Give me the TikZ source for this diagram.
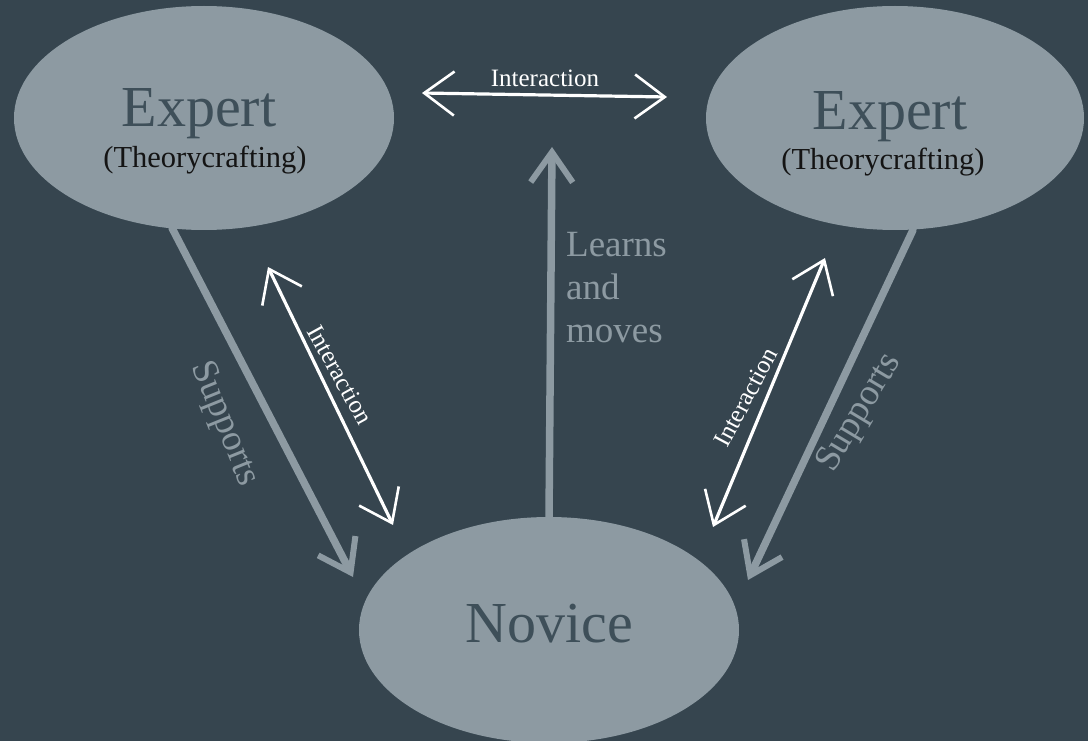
\documentclass[tikz,border=0pt]{standalone}
\usepackage{fontspec}
\setmainfont{Liberation Serif}
\usetikzlibrary{shapes.geometric,arrows.meta}

\definecolor{slate}{HTML}{36454F}
\definecolor{bubble}{HTML}{8D9AA2}
\definecolor{inktext}{HTML}{3E4F59}
\definecolor{chalk}{HTML}{FFFFFF}

\tikzset{
  bubblenode/.style={ellipse, fill=bubble, draw=none, inner sep=0pt},
  titletext/.style={anchor=base, text=inktext, font=\fontsize{58}{58}\selectfont},
  subtext/.style={anchor=base, text=black!92, font=\fontsize{30.5}{30.5}\selectfont},
  graylabel/.style={text=bubble, inner sep=0pt, font=\fontsize{37}{43}\selectfont},
  whitelabel/.style={text=chalk, inner sep=0pt, font=\fontsize{25}{25}\selectfont},
  grayarrow/.style={draw=bubble, line width=7.5pt, line cap=round,
    -{Straight Barb[length=30pt,width=42pt,line width=6pt]}},
  whitearrow/.style={draw=chalk, line width=3.2pt, line cap=round,
    {Straight Barb[length=30pt,width=44pt,line width=2.6pt]}-{Straight Barb[length=30pt,width=44pt,line width=2.6pt]}}
}

\begin{document}
\begin{tikzpicture}[x=1pt,y=-1pt]
  % canvas
  \fill[slate] (0,0) rectangle (1088,741);
  \useasboundingbox (0,0) rectangle (1088,741);

  % the three bubbles
  \node[bubblenode, minimum width=380pt, minimum height=224pt] (expL) at (204,118) {};
  \node[bubblenode, minimum width=378pt, minimum height=224pt] (expR) at (895,118) {};
  \node[bubblenode, minimum width=380pt, minimum height=226pt] (nov) at (549,630) {};

  % bubble texts
  \node[titletext] (expLt) at (199,127) {Expert};
  \node[subtext] (expLs) at (205,168) {(Theorycrafting)};
  \node[titletext] (expRt) at (890,130) {Expert};
  \node[subtext] (expRs) at (883,170) {(Theorycrafting)};
  \node[titletext] (novt) at (549,642) {Novice};

  % arrow end points
  \coordinate (supLa) at (172,228);
  \coordinate (supLb) at (353,577);
  \coordinate (supRa) at (913,230);
  \coordinate (supRb) at (748,580);
  \coordinate (learnA) at (549,519);
  \coordinate (learnB) at (552,147);
  \coordinate (topA) at (422,93);
  \coordinate (topB) at (667,97);
  \coordinate (intLa) at (268,267);
  \coordinate (intLb) at (393,525);
  \coordinate (intRa) at (825,258);
  \coordinate (intRb) at (713,527);

  % gray arrows: support and progression
  \draw[grayarrow] (supLa) -- (supLb);
  \draw[grayarrow] (supRa) -- (supRb);
  \draw[grayarrow] (learnA) -- (learnB);

  % white arrows: interaction
  \draw[whitearrow] (topA) -- (topB);
  \draw[whitearrow] (intLa) -- (intLb);
  \draw[whitearrow] (intRb) -- (intRa);

  % arrow labels
  \node[whitelabel] (topLbl) at (545,78) {Interaction};
  \node[whitelabel, rotate=-61] (intLLbl) at (340,375) {Interaction};
  \node[whitelabel, rotate=62] (intRLbl) at (746,397) {Interaction};
  \node[graylabel, rotate=-68] (supLLbl) at (224,424) {Supports};
  \node[graylabel, rotate=59] (supRLbl) at (860,413) {Supports};
  \node[graylabel, anchor=north west, align=left] (learnLbl) at (566,232) {Learns\\and\\moves};
\end{tikzpicture}
\end{document}
